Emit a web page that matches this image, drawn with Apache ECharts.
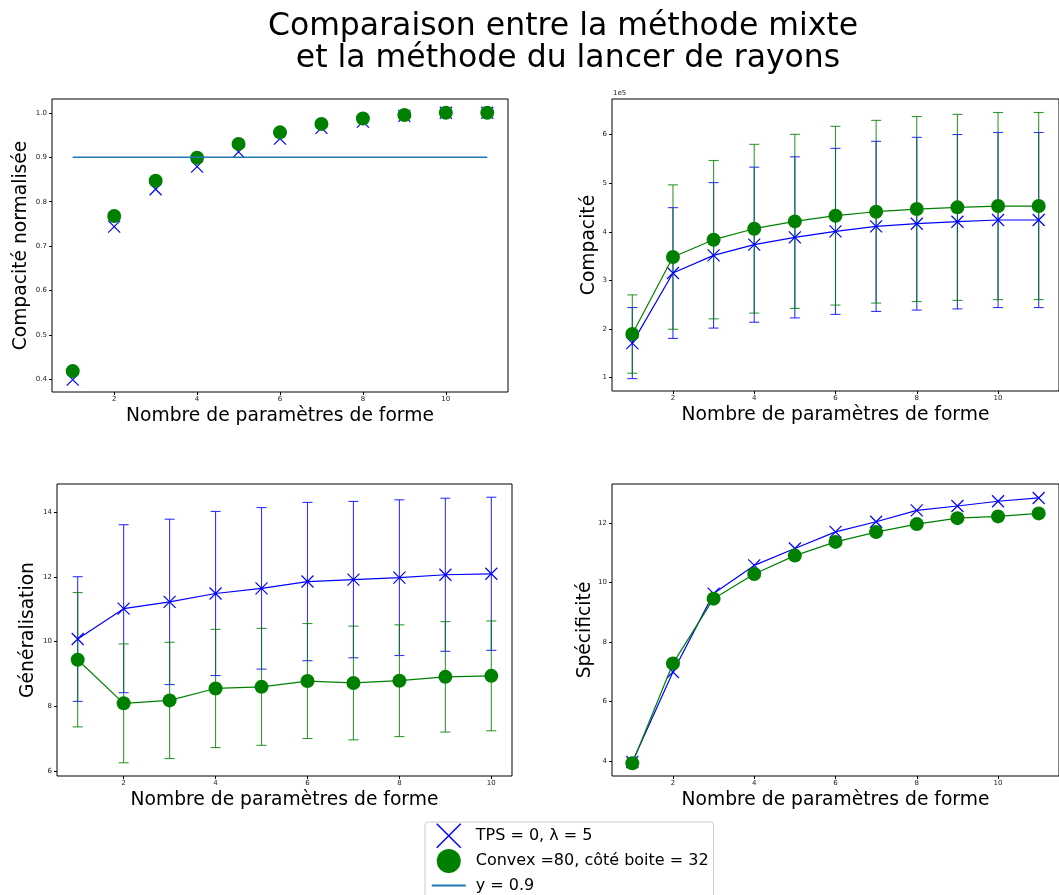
<!DOCTYPE html>
<html><head><meta charset="utf-8">
<script src="https://cdn.jsdelivr.net/npm/echarts@6/dist/echarts.min.js"></script>
<style>html,body{margin:0;padding:0;background:#fff}#c{width:1059px;height:895px}</style>
</head><body><div id="c"></div>
<script>
// ---------- data ----------
const xs11 = [1,2,3,4,5,6,7,8,9,10,11];
const xs10 = [1,2,3,4,5,6,7,8,9,10];
// top-left : normalised compactness
const normTPS    = [0.400,0.744,0.828,0.879,0.912,0.942,0.966,0.980,0.993,1.000,1.000];
const normConvex = [0.419,0.768,0.847,0.899,0.930,0.956,0.975,0.987,0.995,1.000,1.000];
const thresholdX = [1, 11];
const thresholdY = 0.9;
// top-right : compactness (mean, std)
const compTPS       = [170700,315000,351400,373400,388500,400800,411100,416600,420700,424200,424200];
const compTPSStd    = [73200,134700,149800,159700,165900,171000,175200,177900,179600,180300,180300];
const compConvex    = [189300,347900,383700,406300,421400,433100,441300,446800,450300,453000,453000];
const compConvexStd = [80700,148700,163100,173800,179300,184100,188200,190600,191600,192700,192700];
// bottom-left : generalisation (mean, std)
const genTPS       = [10.08,11.02,11.23,11.49,11.65,11.86,11.92,11.98,12.07,12.10];
const genTPSStd    = [1.93,2.60,2.56,2.54,2.50,2.45,2.42,2.41,2.37,2.37];
const genConvex    = [9.44,8.09,8.18,8.55,8.60,8.78,8.72,8.79,8.91,8.94];
const genConvexStd = [2.08,1.84,1.80,1.83,1.81,1.78,1.76,1.73,1.71,1.70];
// bottom-right : specificity
const specTPS    = [3.96,6.99,9.63,10.58,11.15,11.71,12.05,12.43,12.58,12.74,12.85];
const specConvex = [3.92,7.28,9.46,10.29,10.91,11.37,11.70,11.97,12.17,12.23,12.33];
// ticks
const xTicks     = [2,4,6,8,10];
const yTicksNorm = [0.4,0.5,0.6,0.7,0.8,0.9,1.0];
const yTicksComp = [100000,200000,300000,400000,500000,600000];
const yTicksGen  = [6,8,10,12,14];
const yTicksSpec = [4,6,8,10,12];
// texts
const titleText = 'Comparaison entre la méthode mixte\n et la méthode du lancer de rayons';
const xName = 'Nombre de paramètres de forme';
const nameTPS = 'TPS = 0, λ = 5';
const nameConvex = 'Convex =80, côté boite = 32';
const nameLine = 'y = 0.9';

// ---------- helpers ----------
const FONT = 'DejaVu Sans';
const BLUE = '#0000ff', GREEN = '#008000', LBLUE = '#1f77b4';
const XSYM = 'path://M0,0L10,10M10,0L0,10';
const pairs = (xs, ys) => xs.map((x, i) => [x, ys[i]]);
const errs = (xs, m, s) => xs.map((x, i) => [x, m[i] - s[i], m[i] + s[i]]);

function xAxis(gi, min, max) {
  return {
    type: 'value', gridIndex: gi, min: min, max: max,
    name: xName, nameLocation: 'middle', nameGap: 15,
    nameTextStyle: {fontFamily: FONT, fontSize: 18.7, color: '#000'},
    axisLine: {show: false},
    axisTick: {show: true, length: 3, customValues: xTicks, lineStyle: {color: '#000'}},
    axisLabel: {customValues: xTicks, fontFamily: FONT, fontSize: 7, color: '#222', margin: 4},
    splitLine: {show: false}
  };
}
function yAxis(gi, min, max, ticks, name, gap, fmt) {
  return {
    type: 'value', gridIndex: gi, min: min, max: max,
    name: name, nameLocation: 'middle', nameGap: gap, nameRotate: 90,
    nameTextStyle: {fontFamily: FONT, fontSize: 18.7, color: '#000'},
    axisLine: {show: false},
    axisTick: {show: true, length: 3, customValues: ticks, lineStyle: {color: '#000'}},
    axisLabel: {customValues: ticks, fontFamily: FONT, fontSize: 7, color: '#222', margin: 5, formatter: fmt},
    splitLine: {show: false}
  };
}
function errSeries(name, gi, data, color) {
  return {
    type: 'custom', name: name, xAxisIndex: gi, yAxisIndex: gi, data: data, z: 2,
    renderItem: function (params, api) {
      const x = api.value(0);
      const lo = api.coord([x, api.value(1)]);
      const hi = api.coord([x, api.value(2)]);
      const hw = 5;
      const st = {stroke: color, lineWidth: 1.1, opacity: 0.8};
      return {type: 'group', children: [
        {type: 'line', shape: {x1: lo[0], y1: lo[1], x2: hi[0], y2: hi[1]}, style: st},
        {type: 'line', shape: {x1: hi[0]-hw, y1: hi[1], x2: hi[0]+hw, y2: hi[1]}, style: st},
        {type: 'line', shape: {x1: lo[0]-hw, y1: lo[1], x2: lo[0]+hw, y2: lo[1]}, style: st}
      ]};
    }
  };
}
function tpsSeries(type, gi, data) {
  return {
    type: type, name: nameTPS, xAxisIndex: gi, yAxisIndex: gi, data: data, z: 3,
    symbol: XSYM, symbolSize: 12, showSymbol: true,
    itemStyle: {color: BLUE, borderColor: BLUE, borderWidth: 1.2, opacity: 1},
    lineStyle: {color: BLUE, width: 1.2}
  };
}
function convexSeries(type, gi, data) {
  return {
    type: type, name: nameConvex, xAxisIndex: gi, yAxisIndex: gi, data: data, z: 4,
    symbol: 'circle', symbolSize: 14, showSymbol: true,
    itemStyle: {color: GREEN, opacity: 1},
    lineStyle: {color: GREEN, width: 1.2}
  };
}

const gridBase = {show: true, borderColor: '#000', borderWidth: 1, backgroundColor: 'transparent'};

const option = {
  animation: false,
  backgroundColor: '#fff',
  title: {
    text: titleText, left: 558, top: 6, textAlign: 'center',
    textStyle: {fontFamily: FONT, fontSize: 31.5, fontWeight: 'normal', color: '#000', lineHeight: 32}
  },
  legend: {
    orient: 'vertical', left: 425, top: 822, height: 120,
    itemWidth: 34, itemHeight: 24, itemGap: 0.5,
    padding: [1, 5, 4, 6],
    borderColor: '#cccccc', borderWidth: 1, borderRadius: 3, backgroundColor: '#fff',
    textStyle: {fontFamily: FONT, fontSize: 16, color: '#000', padding: [0, 0, 0, 5]},
    selectedMode: false,
    data: [
      {name: nameTPS, icon: 'path://M0,0M34,24M5,0L29,24M29,0L5,24',
       itemStyle: {color: BLUE, borderColor: BLUE, borderWidth: 1.5, opacity: 1}},
      {name: nameConvex, icon: 'circle', itemStyle: {color: GREEN, borderWidth: 0, opacity: 1}},
      {name: nameLine, icon: 'path://M0,0M34,24M0,11L34,11L34,13L0,13Z',
       itemStyle: {color: LBLUE, borderWidth: 0, opacity: 1}}
    ]
  },
  grid: [
    Object.assign({left: 52, top: 99, width: 456, height: 293}, gridBase),
    Object.assign({left: 612, top: 99, width: 456, height: 292}, gridBase),
    Object.assign({left: 57, top: 484, width: 455, height: 292}, gridBase),
    Object.assign({left: 612, top: 484, width: 456, height: 292}, gridBase)
  ],
  xAxis: [
    xAxis(0, 0.5, 11.5),
    xAxis(1, 0.5, 11.5),
    xAxis(2, 0.55, 10.45),
    xAxis(3, 0.5, 11.5)
  ],
  yAxis: [
    yAxis(0, 0.372, 1.031, yTicksNorm, 'Compacité normalisée', 21, v => v.toFixed(1)),
    yAxis(1, 72000, 673500, yTicksComp, 'Compacité', 13.5, v => String(Math.round(v / 1e5))),
    yAxis(2, 5.84, 14.88, yTicksGen, 'Généralisation', 19, v => String(v)),
    yAxis(3, 3.49, 13.32, yTicksSpec, 'Spécificité', 17, v => String(v))
  ],
  graphic: [
    {type: 'text', left: 613, top: 90, style: {text: '1e5', font: '7px "DejaVu Sans"', fill: '#222'}}
  ],
  series: [
    // top-left
    tpsSeries('scatter', 0, pairs(xs11, normTPS)),
    convexSeries('scatter', 0, pairs(xs11, normConvex)),
    {type: 'line', name: nameLine, xAxisIndex: 0, yAxisIndex: 0, z: 5,
     data: thresholdX.map(x => [x, thresholdY]), showSymbol: false, symbol: 'none',
     lineStyle: {color: LBLUE, width: 1.5}, itemStyle: {color: LBLUE}},
    // top-right
    errSeries(nameTPS, 1, errs(xs11, compTPS, compTPSStd), BLUE),
    tpsSeries('line', 1, pairs(xs11, compTPS)),
    errSeries(nameConvex, 1, errs(xs11, compConvex, compConvexStd), GREEN),
    convexSeries('line', 1, pairs(xs11, compConvex)),
    // bottom-left
    errSeries(nameTPS, 2, errs(xs10, genTPS, genTPSStd), BLUE),
    tpsSeries('line', 2, pairs(xs10, genTPS)),
    errSeries(nameConvex, 2, errs(xs10, genConvex, genConvexStd), GREEN),
    convexSeries('line', 2, pairs(xs10, genConvex)),
    // bottom-right
    tpsSeries('line', 3, pairs(xs11, specTPS)),
    convexSeries('line', 3, pairs(xs11, specConvex))
  ]
};

const chart = echarts.init(document.getElementById('c'), null, {renderer: 'canvas'});
chart.setOption(option);
</script>
</body></html>
